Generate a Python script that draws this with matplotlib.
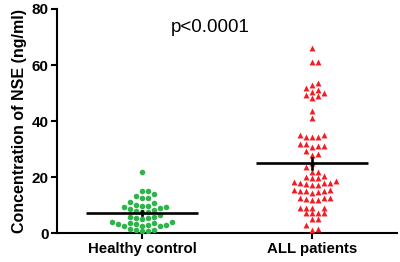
import numpy as np
import matplotlib.pyplot as plt

plt.rcParams["font.family"] = ["Liberation Sans", "DejaVu Sans"]

GROUPS = ["Healthy control", "ALL patients"]

HEALTHY_VALUES = [
    22.0, 15.2, 15.0, 14.0, 13.5, 12.8, 12.5, 11.2, 11.0, 10.2,
    9.8, 9.6, 9.4, 9.3, 9.0, 8.6, 8.4, 8.0, 7.6, 7.5,
    6.5, 6.0, 5.8, 5.6, 5.5, 5.2, 4.2, 4.0, 3.8, 3.6,
    3.3, 3.2, 3.0, 2.9, 2.8, 2.7, 2.6, 1.6, 1.4, 1.2, 1.0, 0.8,
]

ALL_VALUES = [
    66.0, 61.0, 61.0, 53.5, 53.0, 51.8, 51.0, 50.4, 50.0, 49.5, 48.9, 48.3,
    43.8, 41.2,
    34.9, 34.5, 34.2, 34.2, 34.9,
    32.0, 31.0, 30.8, 31.2, 31.8,
    28.0, 28.2, 29.5,
    25.2, 23.5,
    22.0, 22.0,
    20.2, 19.8, 19.8, 20.4,
    18.8, 18.0, 17.4, 18.0, 17.4, 18.0, 17.6, 18.4,
    15.5, 15.0, 14.8, 15.0, 14.5, 15.0, 15.6,
    12.8, 12.8, 12.0, 11.8, 12.2, 12.8,
    9.2, 9.2, 9.0, 9.2,
    7.2, 7.4, 7.2, 7.2,
    5.3, 5.2,
    3.0,
    1.4, 1.6,
]

Y_TICKS = [0, 20, 40, 60, 80]
P_TEXT = "p<0.0001"

GREEN = "#2fb44a"
RED = "#f21c24"


def swarm_offsets(values, px_per_x, px_per_y, step_px=6.0, min_dist_px=5.6):
    """
    Simple grid beeswarm: each point goes to the nearest free column
    (0, +1, -1, +2, -2, ...) so it does not overlap placed points.
    """
    order = np.argsort(values)
    placed = []
    offsets = np.zeros(len(values))

    for idx in order:
        y_px = values[idx] * px_per_y
        k = 0
        while True:
            for col in ([0] if k == 0 else [k, -k]):
                x_px = col * step_px
                clash = any(
                    (x_px - px) ** 2 + (y_px - py) ** 2 < min_dist_px ** 2
                    for px, py in placed
                )
                if not clash:
                    placed.append((x_px, y_px))
                    offsets[idx] = x_px / px_per_x
                    break
            else:
                k += 1
                continue
            break

    return offsets


fig = plt.figure(figsize=(4.0, 2.62), dpi=100)
ax = fig.add_axes([0.1425, 0.109, 0.85, 0.857])

ax.set_xlim(-0.5, 1.5)
ax.set_ylim(0, 80)

# pixel scale of the data axes
px_per_x = ax.bbox.width / 2.0
px_per_y = ax.bbox.height / 80.0

healthy = np.array(HEALTHY_VALUES)
patients = np.array(ALL_VALUES)

healthy_x = 0 + swarm_offsets(healthy, px_per_x, px_per_y)
patients_x = 1 + swarm_offsets(patients, px_per_x, px_per_y)

ax.scatter(healthy_x, healthy, s=16, marker="o", color=GREEN,
           linewidths=0, zorder=3)
ax.scatter(patients_x, patients, s=18, marker="^", color=RED,
           linewidths=0, zorder=3)

# mean with SEM
for pos, vals in [(0, healthy), (1, patients)]:
    mean = vals.mean()
    sem = vals.std(ddof=1) / np.sqrt(len(vals))
    ax.plot([pos - 0.33, pos + 0.33], [mean, mean], color="black",
            linewidth=1.9, zorder=4, solid_capstyle="butt")
    ax.plot([pos, pos], [mean - sem, mean + sem], color="black",
            linewidth=1.9, zorder=4)

ax.text(0.4, 73.5, P_TEXT, ha="center", va="center", fontsize=13.5)

ax.set_yticks(Y_TICKS)
ax.set_xticks([0, 1])
ax.set_xticklabels(GROUPS, fontsize=10.8, fontweight="bold")
for label in ax.get_yticklabels():
    label.set_fontweight("bold")
    label.set_fontsize(11)

ax.set_ylabel("Concentration of NSE (ng/ml)", fontsize=11.5,
              fontweight="bold", labelpad=3)

ax.spines["top"].set_visible(False)
ax.spines["right"].set_visible(False)
for side in ["left", "bottom"]:
    ax.spines[side].set_linewidth(1.5)
ax.tick_params(axis="both", direction="out", length=4, width=1.5,
               pad=2, colors="black")

fig.savefig("out.png", dpi=100)
